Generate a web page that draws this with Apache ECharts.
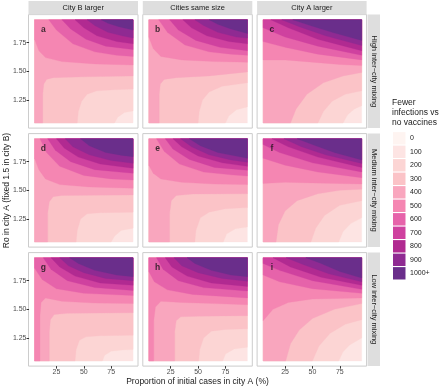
<!DOCTYPE html>
<html>
<head>
<meta charset="utf-8">
<script src="https://cdn.jsdelivr.net/npm/echarts@6/dist/echarts.min.js"></script>
<style>
html, body { margin: 0; padding: 0; background: #fff; }
#chart { width: 440px; height: 388px; }
</style>
</head>
<body>
<div id="chart"></div>
<script>
// legend bands (fewer infections vs no vaccines)
const levels = ['0', '100', '200', '300', '400', '500', '600', '700', '800', '900', '1000+']
const levelColors = ['#FEF4F1', '#FDE4E3', '#FCD5D4', '#FBC3C7', '#F9A6BE', '#F586B2',
  '#E663AA', '#CF419F', '#B12A91', '#8F2A92', '#6A2E8B']

const colNames = ['City B larger', 'Cities same size', 'City A larger']
const rowNames = ['High inter\u2212city mixing', 'Medium inter\u2212city mixing', 'Low inter\u2212city mixing']
const panelTags = [['a', 'b', 'c'], ['d', 'e', 'f'], ['g', 'h', 'i']]

const xTicks = [25, 50, 75]
const yTicks = [1.25, 1.5, 1.75]

// data range of the contour grid: proportion of cases (%) and Ro
const xRange = [5, 95]
const yRange = [1.05, 1.95]

// contour lines: [level, boundary of the region >= level]
// the first entry (no line) is the lowest band filling the panel
const panelA = [
  [100, null],
  [200, [[78, 1.05], [81, 1.1], [87, 1.14], [95, 1.155]]],
  [300, [[44, 1.05], [45, 1.15], [48, 1.24], [53, 1.3], [62, 1.33], [78, 1.34], [95, 1.345]]],
  [400, [[12.5, 1.05], [12.5, 1.3], [13.5, 1.39], [16, 1.43], [22, 1.445], [50, 1.452], [95, 1.46]]],
  [500, [[5, 1.78], [9, 1.68], [15, 1.62], [30, 1.585], [60, 1.565], [95, 1.555]]],
  [600, [[18, 1.95], [25, 1.86], [40, 1.74], [60, 1.67], [80, 1.64], [95, 1.63]]],
  [700, [[30, 1.95], [38, 1.87], [52, 1.78], [70, 1.72], [95, 1.69]]],
  [800, [[42, 1.95], [50, 1.88], [62, 1.81], [80, 1.76], [95, 1.74]]],
  [900, [[53, 1.95], [60, 1.9], [72, 1.84], [85, 1.81], [95, 1.79]]],
  [1000, [[66, 1.95], [72, 1.92], [82, 1.89], [95, 1.86]]]
]
const panelB = [
  [100, null],
  [200, [[75, 1.05], [78, 1.11], [85, 1.165], [95, 1.19]]],
  [300, [[50, 1.05], [51, 1.15], [54, 1.25], [60, 1.32], [72, 1.37], [95, 1.4]]],
  [400, [[14.5, 1.05], [14.5, 1.3], [15.5, 1.39], [19, 1.43], [30, 1.445], [60, 1.46], [95, 1.495]]],
  [500, [[5, 1.8], [9, 1.7], [16, 1.63], [35, 1.6], [65, 1.585], [95, 1.58]]],
  [600, [[14, 1.95], [22, 1.84], [38, 1.73], [60, 1.67], [80, 1.65], [95, 1.64]]],
  [700, [[24, 1.95], [32, 1.86], [48, 1.77], [70, 1.71], [95, 1.68]]],
  [800, [[36, 1.95], [44, 1.88], [58, 1.81], [78, 1.76], [95, 1.74]]],
  [900, [[47, 1.95], [55, 1.9], [68, 1.84], [85, 1.8], [95, 1.79]]],
  [1000, [[60, 1.95], [68, 1.91], [80, 1.87], [95, 1.83]]]
]
const panelC = [
  [100, null],
  [200, [[78, 1.05], [82, 1.12], [88, 1.17], [95, 1.2]]],
  [300, [[55, 1.05], [60, 1.15], [68, 1.24], [80, 1.3], [95, 1.33]]],
  [400, [[30, 1.05], [35, 1.17], [45, 1.3], [60, 1.4], [78, 1.46], [95, 1.49]]],
  [500, [[5, 1.6], [25, 1.6], [50, 1.58], [75, 1.56], [95, 1.55]]],
  [600, [[5, 1.76], [25, 1.71], [55, 1.65], [95, 1.6]]],
  [700, [[5, 1.88], [25, 1.8], [55, 1.72], [95, 1.64]]],
  [800, [[12, 1.95], [28, 1.88], [55, 1.78], [95, 1.68]]],
  [900, [[22, 1.95], [38, 1.89], [62, 1.81], [95, 1.725]]],
  [1000, [[32, 1.95], [48, 1.9], [68, 1.84], [95, 1.77]]]
]
const panelD = [
  [100, null],
  [200, [[75, 1.05], [78, 1.1], [84, 1.15], [95, 1.17]]],
  [300, [[43, 1.05], [44, 1.15], [47, 1.25], [53, 1.295], [65, 1.305], [95, 1.31]]],
  [400, [[17, 1.05], [17, 1.3], [18.5, 1.4], [22, 1.445], [30, 1.455], [60, 1.458], [95, 1.46]]],
  [500, [[5, 1.78], [9, 1.68], [15, 1.6], [28, 1.55], [55, 1.53], [95, 1.518]]],
  [600, [[10, 1.95], [16, 1.83], [28, 1.71], [50, 1.63], [75, 1.6], [95, 1.59]]],
  [700, [[17, 1.95], [24, 1.85], [38, 1.75], [60, 1.68], [95, 1.649]]],
  [800, [[25, 1.95], [32, 1.87], [45, 1.79], [65, 1.73], [95, 1.693]]],
  [900, [[33, 1.95], [40, 1.88], [55, 1.81], [75, 1.76], [95, 1.736]]],
  [1000, [[47, 1.95], [55, 1.89], [70, 1.83], [85, 1.805], [95, 1.794]]]
]
const panelE = [
  [100, null],
  [200, [[73, 1.05], [76, 1.12], [84, 1.165], [95, 1.18]]],
  [300, [[47, 1.05], [48, 1.15], [52, 1.26], [60, 1.31], [75, 1.34], [95, 1.35]]],
  [400, [[24, 1.05], [24, 1.3], [25.5, 1.41], [30, 1.455], [45, 1.468], [95, 1.47]]],
  [500, [[5, 1.72], [9, 1.65], [16, 1.6], [35, 1.57], [65, 1.555], [95, 1.55]]],
  [600, [[12, 1.95], [19, 1.84], [33, 1.73], [55, 1.66], [80, 1.635], [95, 1.625]]],
  [700, [[20, 1.95], [27, 1.86], [42, 1.77], [65, 1.7], [95, 1.675]]],
  [800, [[27, 1.95], [35, 1.88], [50, 1.8], [72, 1.74], [95, 1.71]]],
  [900, [[34, 1.95], [44, 1.88], [60, 1.81], [80, 1.765], [95, 1.745]]],
  [1000, [[42, 1.95], [52, 1.89], [68, 1.83], [95, 1.78]]]
]
const panelF = [
  [100, null],
  [200, [[74, 1.05], [78, 1.14], [85, 1.21], [95, 1.26]]],
  [300, [[48.6, 1.05], [53, 1.17], [61, 1.28], [75, 1.37], [95, 1.41]]],
  [400, [[16.8, 1.05], [19, 1.2], [25, 1.32], [36, 1.41], [55, 1.47], [75, 1.5], [95, 1.51]]],
  [500, [[5, 1.56], [25, 1.57], [50, 1.565], [95, 1.555]]],
  [600, [[5, 1.78], [25, 1.72], [55, 1.66], [95, 1.61]]],
  [700, [[5, 1.9], [20, 1.83], [50, 1.74], [95, 1.66]]],
  [800, [[13, 1.95], [28, 1.88], [55, 1.79], [95, 1.7]]],
  [900, [[24, 1.95], [40, 1.88], [62, 1.81], [95, 1.735]]],
  [1000, [[36, 1.95], [50, 1.9], [70, 1.83], [95, 1.765]]]
]
const panelG = [
  [100, null],
  [200, [[67, 1.05], [69, 1.1], [75, 1.135], [85, 1.145], [95, 1.15]]],
  [300, [[42, 1.05], [43, 1.15], [46, 1.23], [52, 1.26], [65, 1.27], [95, 1.275]]],
  [400, [[18.5, 1.05], [18.5, 1.3], [19.5, 1.41], [23, 1.455], [35, 1.465], [95, 1.47]]],
  [500, [[10, 1.05], [10, 1.45], [11, 1.56], [15, 1.6], [30, 1.57], [60, 1.555], [95, 1.55]]],
  [600, [[5, 1.86], [12, 1.76], [25, 1.68], [50, 1.64], [95, 1.62]]],
  [700, [[13, 1.95], [20, 1.85], [35, 1.75], [60, 1.69], [95, 1.665]]],
  [800, [[20, 1.95], [28, 1.87], [42, 1.79], [65, 1.73], [95, 1.71]]],
  [900, [[28, 1.95], [36, 1.88], [50, 1.82], [70, 1.77], [95, 1.75]]],
  [1000, [[37, 1.95], [45, 1.9], [60, 1.84], [80, 1.8], [95, 1.785]]]
]
const panelH = [
  [100, null],
  [200, [[72.5, 1.05], [75, 1.11], [83, 1.155], [95, 1.17]]],
  [300, [[50.5, 1.05], [51.5, 1.15], [55, 1.25], [62, 1.31], [75, 1.325], [95, 1.33]]],
  [400, [[28.6, 1.05], [28.6, 1.3], [30, 1.4], [34, 1.435], [50, 1.44], [95, 1.445]]],
  [500, [[9.5, 1.05], [9.5, 1.4], [11, 1.52], [16, 1.57], [35, 1.56], [65, 1.55], [95, 1.54]]],
  [600, [[5, 1.83], [10, 1.74], [22, 1.67], [45, 1.63], [95, 1.6]]],
  [700, [[12, 1.95], [18, 1.85], [32, 1.75], [55, 1.69], [95, 1.66]]],
  [800, [[20, 1.95], [26, 1.87], [40, 1.79], [62, 1.73], [95, 1.7]]],
  [900, [[28, 1.95], [35, 1.88], [50, 1.82], [72, 1.77], [95, 1.745]]],
  [1000, [[40, 1.95], [47, 1.9], [62, 1.84], [80, 1.8], [95, 1.785]]]
]
const panelI = [
  [100, null],
  [200, [[74, 1.05], [78, 1.13], [84, 1.19], [95, 1.25]]],
  [300, [[50, 1.05], [56, 1.18], [66, 1.29], [80, 1.37], [95, 1.41]]],
  [400, [[25.6, 1.05], [30, 1.2], [38, 1.32], [50, 1.42], [70, 1.5], [95, 1.55]]],
  [500, [[5, 1.4], [14, 1.5], [28, 1.56], [50, 1.59], [95, 1.6]]],
  [600, [[5, 1.8], [20, 1.74], [50, 1.68], [95, 1.64]]],
  [700, [[5, 1.9], [20, 1.84], [50, 1.75], [95, 1.675]]],
  [800, [[14, 1.95], [30, 1.87], [58, 1.78], [95, 1.71]]],
  [900, [[26, 1.95], [42, 1.89], [65, 1.81], [95, 1.74]]],
  [1000, [[44, 1.95], [58, 1.9], [75, 1.83], [95, 1.774]]]
]
const panels = [[panelA, panelB, panelC], [panelD, panelE, panelF], [panelG, panelH, panelI]]

// layout (px)
const colLeft = [28.5, 142.8, 257.1]
const colWidth = 109.5
const rowTop = [14.6, 133.6, 252.6]
const rowHeight = 113.5
const tagPos = [13, 1.86]

const X0 = xRange[0], X1 = xRange[1], Y0 = yRange[0], Y1 = yRange[1]
const corners = [[X0, Y0], [X0, Y1], [X1, Y1], [X1, Y0]]

function colorOf(level) {
  return levelColors[Math.min(level / 100, 10)]
}
// position along the border of the data rectangle, going
// left edge (up), top (right), right edge (down), bottom (left)
function perim(p) {
  const e = 1e-6
  if (Math.abs(p[0] - X0) < e) return (p[1] - Y0) / (Y1 - Y0)
  if (Math.abs(p[1] - Y1) < e) return 1 + (p[0] - X0) / (X1 - X0)
  if (Math.abs(p[0] - X1) < e) return 2 + (Y1 - p[1]) / (Y1 - Y0)
  return 3 + (X1 - p[0]) / (X1 - X0)
}
// close a contour line into the region that holds the top-left corner
function regionOf(line) {
  if (!line) return corners.slice()
  const ps = perim(line[0]), pe = perim(line[line.length - 1])
  const span = ((pe - ps) % 4 + 4) % 4
  const pts = line.slice()
  for (let c = Math.ceil(pe) - 1; pe - c < span; c--) {
    pts.push(corners[((c % 4) + 4) % 4])
  }
  return pts
}

const grids = [], xAxes = [], yAxes = [], series = [], graphics = []

for (let r = 0; r < 3; r++) {
  for (let c = 0; c < 3; c++) {
    const k = r * 3 + c
    const contours = panels[r][c]
    grids.push({
      left: colLeft[c], top: rowTop[r], width: colWidth, height: rowHeight,
      show: true, backgroundColor: '#fff', borderColor: '#cccccc', borderWidth: 1
    })
    xAxes.push({
      gridIndex: k, type: 'value', min: -0.5, max: 99.5,
      axisLine: { show: false },
      splitLine: { show: false },
      axisTick: { show: r === 2, length: 2.5, customValues: xTicks, lineStyle: { color: '#333' } },
      axisLabel: { show: r === 2, customValues: xTicks, fontSize: 7, color: '#4d4d4d', margin: 2.5, fontFamily: 'Liberation Sans' }
    })
    yAxes.push({
      gridIndex: k, type: 'value', min: 1.005, max: 1.995,
      axisLine: { show: false },
      splitLine: { show: false },
      axisTick: { show: c === 0, length: 2.5, customValues: yTicks, lineStyle: { color: '#333' } },
      axisLabel: {
        show: c === 0, customValues: yTicks, fontSize: 7, color: '#4d4d4d', margin: 2,
        fontFamily: 'Liberation Sans', formatter: v => v.toFixed(2)
      }
    })
    series.push({
      type: 'custom', xAxisIndex: k, yAxisIndex: k,
      data: contours.map(() => [X0, Y0]),
      silent: true,
      renderItem(params, api) {
        const item = contours[params.dataIndex]
        const pts = regionOf(item[1]).map(p => api.coord(p))
        return { type: 'polygon', shape: { points: pts }, style: { fill: colorOf(item[0]), stroke: colorOf(item[0]), lineWidth: 0.3 } }
      }
    })
    series.push({
      type: 'scatter', xAxisIndex: k, yAxisIndex: k,
      data: [tagPos], symbolSize: 0, silent: true,
      label: {
        show: true, position: 'inside', formatter: panelTags[r][c],
        fontSize: 8.5, fontWeight: 'bold', color: '#111', fontFamily: 'Liberation Sans'
      }
    })
  }
}

// facet strips
colNames.forEach((name, c) => {
  graphics.push({ type: 'rect', shape: { x: colLeft[c], y: 1, width: colWidth, height: 13.6 }, style: { fill: '#dedede' } })
  graphics.push({
    type: 'text', x: colLeft[c] + colWidth / 2, y: 8,
    style: { text: name, fill: '#1a1a1a', fontSize: 7.5, fontFamily: 'Liberation Sans', textAlign: 'center', textVerticalAlign: 'middle' }
  })
})
rowNames.forEach((name, r) => {
  graphics.push({ type: 'rect', shape: { x: 367.6, y: rowTop[r], width: 12.4, height: rowHeight }, style: { fill: '#dedede' } })
  graphics.push({
    type: 'text', x: 373.8, y: rowTop[r] + rowHeight / 2, rotation: -Math.PI / 2,
    style: { text: name, fill: '#1a1a1a', fontSize: 7.5, fontFamily: 'Liberation Sans', textAlign: 'center', textVerticalAlign: 'middle' }
  })
})

// axis titles
graphics.push({
  type: 'text', x: 197.5, y: 381.5,
  style: { text: 'Proportion of initial cases in city A (%)', fill: '#1a1a1a', fontSize: 8.5, fontFamily: 'Liberation Sans', textAlign: 'center', textVerticalAlign: 'middle' }
})
graphics.push({
  type: 'text', x: 7, y: 190.5, rotation: Math.PI / 2,
  style: { text: 'Ro in city A (fixed 1.5 in city B)', fill: '#1a1a1a', fontSize: 8.5, fontFamily: 'Liberation Sans', textAlign: 'center', textVerticalAlign: 'middle' }
})

// legend
graphics.push({
  type: 'text', x: 392, y: 97.5,
  style: { text: 'Fewer\ninfections vs\nno vaccines', fill: '#1a1a1a', fontSize: 8.5, lineHeight: 10, fontFamily: 'Liberation Sans', textAlign: 'left', textVerticalAlign: 'top' }
})
levels.forEach((lab, i) => {
  const cy = 138.3 + i * 13.5
  graphics.push({ type: 'rect', shape: { x: 393, y: cy - 6.2, width: 12.5, height: 12.4 }, style: { fill: levelColors[i] } })
  graphics.push({
    type: 'text', x: 410, y: cy,
    style: { text: lab, fill: '#1a1a1a', fontSize: 7, fontFamily: 'Liberation Sans', textAlign: 'left', textVerticalAlign: 'middle' }
  })
})

const myChart = echarts.init(document.getElementById('chart'), null, { renderer: 'canvas' })
myChart.setOption({
  animation: false,
  backgroundColor: '#fff',
  grid: grids,
  xAxis: xAxes,
  yAxis: yAxes,
  series: series,
  graphic: graphics
})
</script>
</body>
</html>
